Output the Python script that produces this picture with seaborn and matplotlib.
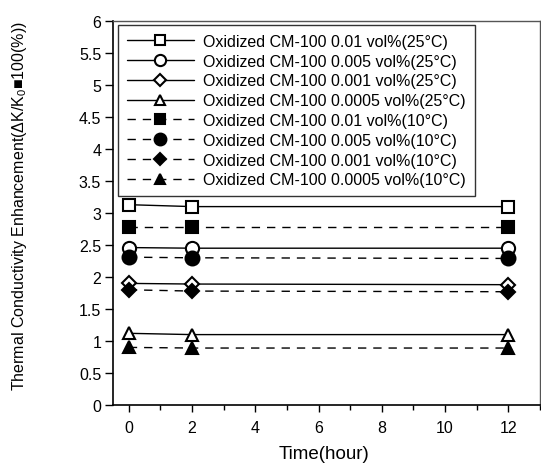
import matplotlib
matplotlib.use("Agg")
import matplotlib.pyplot as plt
import seaborn as sns
import pandas as pd
from matplotlib.ticker import MultipleLocator

sns.set_theme(style="white")
plt.rcParams['font.family'] = ['Liberation Sans', 'DejaVu Sans']
plt.rcParams['mathtext.fontset'] = 'custom'
plt.rcParams['mathtext.rm'] = 'Liberation Sans'

hours = [0, 2, 12]
labels = [
    "Oxidized CM-100 0.01 vol%(25°C)",
    "Oxidized CM-100 0.005 vol%(25°C)",
    "Oxidized CM-100 0.001 vol%(25°C)",
    "Oxidized CM-100 0.0005 vol%(25°C)",
    "Oxidized CM-100 0.01 vol%(10°C)",
    "Oxidized CM-100 0.005 vol%(10°C)",
    "Oxidized CM-100 0.001 vol%(10°C)",
    "Oxidized CM-100 0.0005 vol%(10°C)",
]
s25_001 = [3.13, 3.10, 3.10]
s25_0005 = [2.46, 2.45, 2.45]
s25_0001 = [1.90, 1.89, 1.88]
s25_00005 = [1.12, 1.10, 1.10]
s10_001 = [2.78, 2.78, 2.78]
s10_0005 = [2.31, 2.30, 2.29]
s10_0001 = [1.80, 1.78, 1.77]
s10_00005 = [0.90, 0.89, 0.89]
series = [s25_001, s25_0005, s25_0001, s25_00005, s10_001, s10_0005, s10_0001, s10_00005]

xticks = [0, 2, 4, 6, 8, 10, 12]
yticks = [0, 0.5, 1, 1.5, 2, 2.5, 3, 3.5, 4, 4.5, 5, 5.5, 6]
ytick_labels = ['0', '0.5', '1', '1.5', '2', '2.5', '3', '3.5', '4', '4.5', '5', '5.5', '6']

markers = ['s', 'o', 'D', '^', 's', 'o', 'D', '^']
msizes = [9, 9.5, 7, 9, 9, 10, 7, 9]
fills = ['white'] * 4 + ['black'] * 4
styles = ['-'] * 4 + [(0, (6, 5))] * 4

fig = plt.figure(figsize=(5.41, 4.77), dpi=100)
ax = fig.add_axes([113/541, 1 - 406/477, 427/541, 384/477])

for lab, vals, m, ms, fc, ls in zip(labels, series, markers, msizes, fills, styles):
    df = pd.DataFrame({"Time": hours, "Value": vals})
    sns.lineplot(data=df, x="Time", y="Value", ax=ax, color='black', linewidth=1,
                 linestyle=ls, marker=m, markersize=ms, markerfacecolor=fc,
                 markeredgecolor='black', markeredgewidth=1.5, label=lab, clip_on=False)

ax.set_xlim(-0.5, 13)
ax.set_ylim(0, 6)
ax.set_xticks(xticks)
ax.xaxis.set_minor_locator(MultipleLocator(1))
ax.set_yticks(yticks)
ax.set_yticklabels(ytick_labels)
ax.tick_params(axis='y', which='major', direction='out', length=6, width=1,
               color='black', labelsize=11.5, labelcolor='black', left=True, pad=2.5)
ax.tick_params(axis='x', which='major', direction='out', length=5, width=1,
               color='black', labelsize=11.5, labelcolor='black', bottom=True, pad=6)
ax.tick_params(axis='x', which='minor', direction='out', length=3.5, width=1, color='black', bottom=True)

for side in ['left', 'bottom']:
    ax.spines[side].set_color('black')
    ax.spines[side].set_linewidth(1.2)
for side in ['top', 'right']:
    ax.spines[side].set_color('#555555')
    ax.spines[side].set_linewidth(1.0)

ax.set_xlabel("Time(hour)", fontsize=13.5, color='black')
ax.xaxis.set_label_coords(0.494, -0.105)
ax.set_ylabel("Thermal Conductivity Enhancement(ΔK/K$_\\mathregular{0}$■100(%))",
              fontsize=11.5, color='black')
ax.yaxis.set_label_coords(-0.197, 0.52)

leg = ax.legend(loc='upper left', bbox_to_anchor=(118/541, 1 - 26/477),
                bbox_transform=fig.transFigure, fontsize=11.5, frameon=True,
                fancybox=False, shadow=False, handlelength=4.2, handletextpad=0.6,
                borderpad=0.55, labelspacing=0.3, borderaxespad=0, markerscale=0.85)
leg.get_frame().set_edgecolor('black')
leg.get_frame().set_linewidth(1.0)
for t in leg.get_texts():
    t.set_color('black')

fig.savefig("out.png", dpi=100)
